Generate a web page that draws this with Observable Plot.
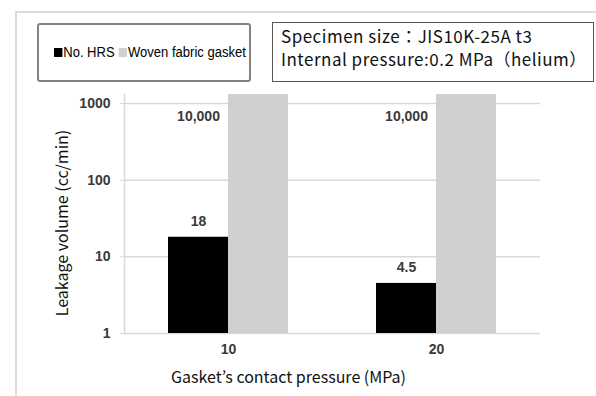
<!DOCTYPE html>
<html>
<head>
<meta charset="utf-8">
<script src="https://cdn.jsdelivr.net/npm/d3@7"></script>
<script src="https://cdn.jsdelivr.net/npm/@observablehq/plot@0.6"></script>
<style>
  html, body { margin: 0; padding: 0; background: #fff; }
  #wrap { position: relative; width: 596px; height: 396px; overflow: hidden; }
  #outer { position: absolute; left: 15px; top: 11px; width: 600px; height: 400px;
           border-left: 2px solid #dcdcdc; border-top: 2px solid #dcdcdc; }
  #legend { position: absolute; left: 37px; top: 23px; width: 210px; height: 55px;
            border: 2px solid #8a8079; border-radius: 3px; background: #fff; overflow: hidden;
            font-family: "Liberation Sans", Arial, sans-serif; font-size: 15.5px; white-space: nowrap; color: #000; }
  #legend .inner { position: absolute; left: 15px; top: 18px; transform: scaleX(0.84); transform-origin: 0 50%; }
  #legend .sw { display: inline-block; width: 10px; height: 9px; margin-right: 1px; vertical-align: 0px; }
  #note { position: absolute; left: 272px; top: 22px; width: 322px; height: 60px;
          border: 1px solid #555; background: #fff;
          font-family: "Noto Sans CJK JP", sans-serif; font-size: 17px; line-height: 23px; letter-spacing: 0.5px;
          padding: 1px 0 0 8px; box-sizing: border-box; color: #111; white-space: nowrap; }
  #chart { position: absolute; left: 0; top: 0; }
</style>
</head>
<body>
<div id="wrap">
  <div id="outer"></div>
  <div id="chart"></div>
  <div id="legend"><div class="inner"></div></div>
  <div id="note"></div>
</div>
<script>
// ---- data ----
const pressures = ["10", "20"];
const seriesNames = ["No. HRS", "Woven fabric gasket"];
const hrsValues = [18, 4.5];
const hrsLabels = ["18", "4.5"];
const wovenValues = [10000, 10000];
const wovenLabels = ["10,000", "10,000"];
const seriesColors = ["#000000", "#d0d0d0"];
const yTicks = [1, 10, 100, 1000];
const yTitle = "Leakage volume (cc/min)";
const xTitle = "Gasket\u2019s contact pressure (MPa)";
const noteLines = ["Specimen size：JIS10K-25A t3", "Internal pressure:0.2 MPa（helium）"];

const rows = [];
pressures.forEach((p, i) => {
  rows.push({pressure: p, series: seriesNames[0], value: hrsValues[i], label: hrsLabels[i]});
  rows.push({pressure: p, series: seriesNames[1], value: wovenValues[i], label: wovenLabels[i]});
});
const hrsRows = rows.filter(d => d.series === seriesNames[0]);
const wovenRows = rows.filter(d => d.series === seriesNames[1]);

const tickFont = {fontFamily: "Liberation Sans, Arial, sans-serif", fontWeight: "bold", fill: "#3a3a3a", fontSize: 14};
const titleFont = {fontFamily: "Noto Sans CJK JP, sans-serif", fill: "#111"};

const chart = Plot.plot({
  width: 596,
  height: 396,
  marginLeft: 124,
  marginRight: 56,
  marginTop: 94,
  marginBottom: 63,
  style: {background: "transparent", overflow: "visible"},
  fx: {domain: pressures, padding: 0, label: null},
  x: {domain: seriesNames, paddingInner: 0, paddingOuter: 0.73, axis: null},
  y: {type: "log", domain: [1, 1310], label: null},
  color: {domain: seriesNames, range: seriesColors},
  marks: [
    Plot.gridY(yTicks, {stroke: "#d9d9d9", strokeOpacity: 1, strokeWidth: 1.5}),
    Plot.frame({anchor: "left", fx: () => pressures[0], stroke: "#d9d9d9", strokeWidth: 1.5}),
    Plot.barY(rows, {fx: "pressure", x: "series", y1: 1, y2: "value", fill: "series", clip: true}),
    Plot.axisY(yTicks, {tickFormat: d3.format("d"), tickSize: 4, tickPadding: 10, stroke: "#d9d9d9", label: null,
      ...tickFont}),
    Plot.axisFx({anchor: "bottom", tickSize: 0, tickPadding: 11, label: null, ...tickFont}),
    Plot.text(hrsRows, {fx: "pressure", x: "series", y: "value", text: "label", dy: -16, ...tickFont}),
    Plot.text(wovenRows, {fx: "pressure", x: () => seriesNames[0], frameAnchor: "top", dy: 17, text: "label", ...tickFont}),
    Plot.text([yTitle], {fx: () => pressures[0], frameAnchor: "left", textAnchor: "middle", rotate: -90, dx: -62, dy: 9,
      text: d => d, fontSize: 16, ...titleFont}),
    Plot.text([xTitle], {fx: () => pressures[0], frameAnchor: "bottom", dy: 49, dx: 60, text: d => d,
      fontSize: 16, ...titleFont})
  ]
});
document.getElementById("chart").appendChild(chart);

// legend
const legend = document.querySelector("#legend .inner");
seriesNames.forEach((s, i) => {
  const item = document.createElement("span");
  item.style.marginRight = "5px";
  item.innerHTML = `<span class="sw" style="background:${seriesColors[i]}"></span>${s}`;
  legend.appendChild(item);
});
// note
document.getElementById("note").innerHTML = noteLines.map(l => `<div>${l}</div>`).join("");
</script>
</body>
</html>
